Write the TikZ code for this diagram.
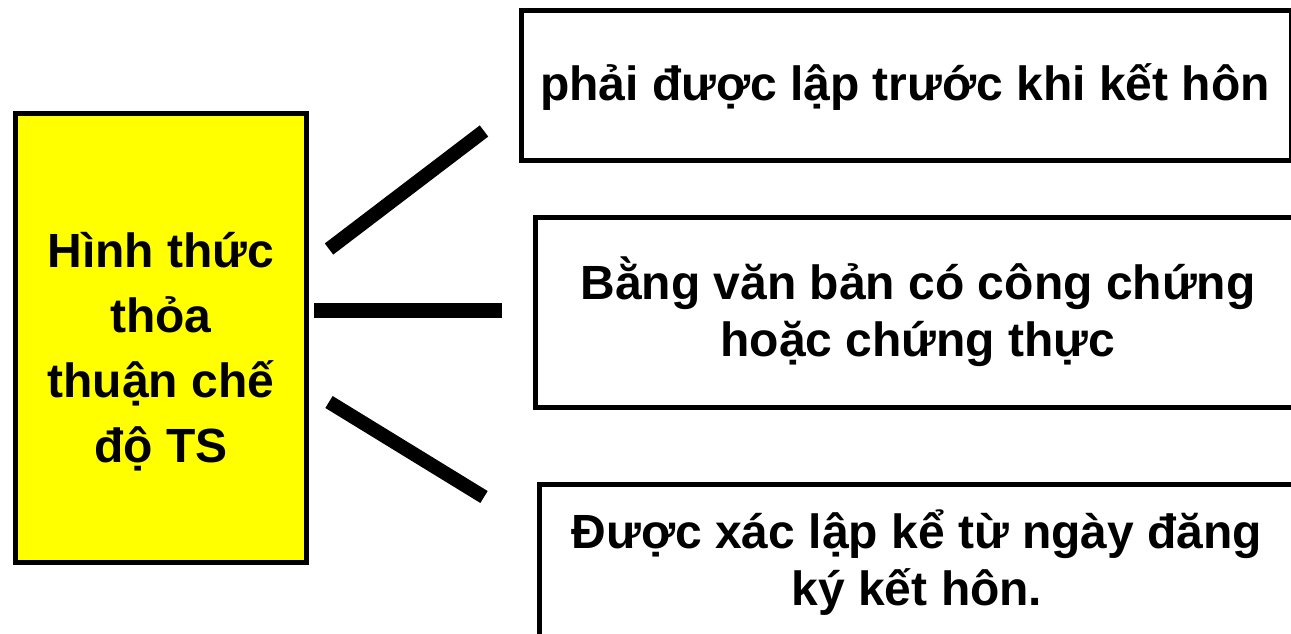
\documentclass[tikz,border=0pt]{standalone}
\usepackage{fontspec}
\setmainfont{Liberation Sans}
\definecolor{yel}{RGB}{255,255,0}
\begin{document}
\begin{tikzpicture}[x=1pt,y=-1pt,
  boxline/.style={draw=black,line width=5pt},
  txt/.style={font=\bfseries\fontsize{48}{57}\selectfont,align=center,inner sep=0pt},
  bar/.style={line width=14pt,line cap=butt}]
\useasboundingbox (0,0) rectangle (1291,633);
\clip (0,0) rectangle (1291,633);
\fill[white] (0,0) rectangle (1291,633);
% left yellow box
\node[boxline,fill=yel,minimum width=291pt,minimum height=449pt,inner sep=0pt,anchor=north west] (L) at (12.5,110.5) {};
\node[txt,font=\bfseries\fontsize{48}{65}\selectfont] (Lt) at (161,352) {Hình thức\\thỏa\\thuận chế\\độ TS};
% right boxes
\node[boxline,minimum width=770pt,minimum height=150pt,inner sep=0pt,anchor=north west] (B1) at (519,8) {};
\node[txt] (B1t) at (905,87) {phải được lập trước khi kết hôn};
\node[boxline,minimum width=800pt,minimum height=190pt,inner sep=0pt,anchor=north west] (B2) at (533,215) {};
\node[txt] (B2t) at (918,312) {Bằng văn bản có công chứng\\hoặc chứng thực};
\node[boxline,minimum width=800pt,minimum height=200pt,inner sep=0pt,anchor=north west] (B3) at (537,482) {};
\node[txt] (B3t) at (917,563) {Được xác lập kể từ ngày đăng\\ký kết hôn.};
% connectors
\coordinate (a1) at (329,249);
\coordinate (b1) at (484,131);
\coordinate (a2) at (314,310);
\coordinate (b2) at (502,310);
\coordinate (a3) at (329,402);
\coordinate (b3) at (484,497);
\draw[bar] (a1) -- (b1);
\draw[bar,line width=15pt] (a2) -- (b2);
\draw[bar] (a3) -- (b3);
\end{tikzpicture}
\end{document}
